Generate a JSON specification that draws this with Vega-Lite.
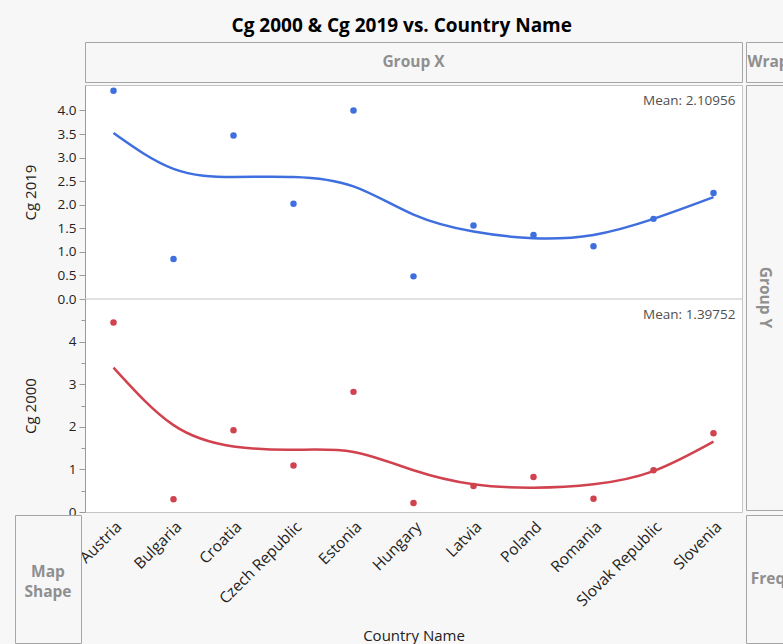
{
  "$schema": "https://vega.github.io/schema/vega-lite/v6.json",
  "background": "#f7f7f7",
  "padding": {"left": 14, "top": 16, "right": 0, "bottom": 0},
  "title": {"text": "Cg 2000 & Cg 2019 vs. Country Name", "fontSize": 19, "fontWeight": "bold", "font": "Open Sans", "color": "#000000", "anchor": "middle", "offset": 6},
  "datasets": {
    "cg": [
      {"country": "Austria", "cg2019": 4.42, "fit2019": 3.52, "cg2000": 4.45, "fit2000": 3.39},
      {"country": "Bulgaria", "cg2019": 0.85, "fit2019": 2.76, "cg2000": 0.30, "fit2000": 2.04},
      {"country": "Croatia", "cg2019": 3.47, "fit2019": 2.59, "cg2000": 1.92, "fit2000": 1.54},
      {"country": "Czech Republic", "cg2019": 2.02, "fit2019": 2.59, "cg2000": 1.09, "fit2000": 1.46},
      {"country": "Estonia", "cg2019": 4.00, "fit2019": 2.39, "cg2000": 2.82, "fit2000": 1.41},
      {"country": "Hungary", "cg2019": 0.48, "fit2019": 1.79, "cg2000": 0.21, "fit2000": 0.98},
      {"country": "Latvia", "cg2019": 1.56, "fit2019": 1.43, "cg2000": 0.61, "fit2000": 0.65},
      {"country": "Poland", "cg2019": 1.36, "fit2019": 1.29, "cg2000": 0.82, "fit2000": 0.57},
      {"country": "Romania", "cg2019": 1.12, "fit2019": 1.36, "cg2000": 0.31, "fit2000": 0.65},
      {"country": "Slovak Republic", "cg2019": 1.70, "fit2019": 1.70, "cg2000": 0.98, "fit2000": 0.96},
      {"country": "Slovenia", "cg2019": 2.25, "fit2019": 2.16, "cg2000": 1.85, "fit2000": 1.65}
    ]
  },
  "bounds": "flush",
  "columns": 3,
  "spacing": {"row": 3, "column": 4},
  "concat": [
    {"width": 66, "height": 40, "data": {"values": [{"label": ""}]}, "mark": {"type": "text"}, "encoding": {"text": {"field": "label"}}},
    {"width": 657, "height": 40, "view": {"stroke": "#a6a6a6", "fill": "#f7f7f7"}, "data": {"values": [{"label": "Group X"}]}, "mark": {"type": "text", "fontWeight": "bold", "fontSize": 15.5, "color": "#8f8f8f", "baseline": "middle"}, "encoding": {"text": {"field": "label"}}},
    {"width": 38, "height": 40, "view": {"stroke": "#a6a6a6", "fill": "#f7f7f7"}, "data": {"values": [{"label": "Wrap"}]}, "mark": {"type": "text", "fontWeight": "bold", "fontSize": 15.5, "color": "#8f8f8f", "baseline": "middle", "dx": 3}, "encoding": {"text": {"field": "label"}}},

    {"width": 66, "height": 427, "data": {"values": [{"label": ""}]}, "mark": {"type": "text"}, "encoding": {"text": {"field": "label"}}},
    {
      "width": 657, "height": 427,
      "view": {"stroke": "#c4c4c4", "fill": "#ffffff"},
      "data": {"name": "cg"},
      "resolve": {"scale": {"y": "independent"}, "axis": {"y": "independent"}},
      "layer": [
        {
          "layer": [
            {"mark": {"type": "line", "interpolate": "natural", "color": "#3f6fde", "strokeWidth": 2.5},
             "encoding": {
               "x": {"field": "country", "type": "nominal", "sort": null, "scale": {"type": "point", "padding": 0.475},
                     "axis": {"title": "Country Name", "labelAngle": -45, "labelFontSize": 15.5, "titleFontSize": 15, "minExtent": 100, "maxExtent": 100, "titlePadding": 16, "ticks": false, "tickSize": 0, "labelPadding": 7, "domain": false}},
               "y": {"field": "fit2019", "type": "quantitative", "scale": {"domain": [0, 4.54], "range": [214, 0], "nice": false, "zero": false},
               "axis": {"orient": "left", "title": "Cg 2019", "values": [0, 0.5, 1, 1.5, 2, 2.5, 3, 3.5, 4], "format": ".1f", "minExtent": 40, "maxExtent": 40, "titlePadding": 7, "labelPadding": 3}}}},
            {"mark": {"type": "circle", "size": 42, "opacity": 1, "color": "#3f6fde"},
             "encoding": {
               "x": {"field": "country", "type": "nominal", "sort": null, "title": "Country Name"},
               "y": {"field": "cg2019", "type": "quantitative"}}},
            {"data": {"values": [{"label": "Mean: 2.10956"}]},
             "mark": {"type": "text", "align": "right", "baseline": "top", "fontSize": 13.5, "color": "#505050", "dx": 22, "dy": 9},
             "encoding": {"x": {"datum": "Slovenia"}, "y": {"datum": 4.54, "type": "quantitative"}, "text": {"field": "label"}}}
          ]
        },
        {
          "resolve": {"axis": {"y": "independent"}},
          "layer": [
            {"mark": {"type": "line", "interpolate": "natural", "color": "#d1424f", "strokeWidth": 2.5},
             "encoding": {
               "x": {"field": "country", "type": "nominal", "sort": null, "title": "Country Name"},
               "y": {"field": "fit2000", "type": "quantitative", "scale": {"domain": [0, 5.0], "range": [427, 214], "nice": false, "zero": false},
               "axis": {"orient": "left", "title": "Cg 2000", "values": [0, 1, 2, 3, 4], "format": "d", "minExtent": 40, "maxExtent": 40, "titlePadding": 7, "labelPadding": 3}}}},
            {"mark": {"type": "circle", "size": 42, "opacity": 1, "color": "#d1424f"},
             "encoding": {
               "x": {"field": "country", "type": "nominal", "sort": null, "title": "Country Name"},
               "y": {"field": "cg2000", "type": "quantitative", "axis": {"orient": "left", "values": [0.5, 1.5, 2.5, 3.5, 4.5], "labels": false, "tickSize": 4, "domain": false, "title": null}}}},
            {"data": {"values": [{"label": "Mean: 1.39752"}]},
             "mark": {"type": "text", "align": "right", "baseline": "top", "fontSize": 13.5, "color": "#505050", "dx": 22, "dy": 9},
             "encoding": {"x": {"datum": "Slovenia"}, "y": {"datum": 5.0, "type": "quantitative", "axis": null}, "text": {"field": "label"}}},
            {"data": {"values": [{"label": "separator"}]},
             "mark": {"type": "rule", "color": "#c4c4c4", "strokeWidth": 1},
             "encoding": {"y": {"datum": 5.0, "type": "quantitative", "axis": null}}}
          ]
        }
      ]
    },
    {"width": 38, "height": 425, "view": {"stroke": "#a6a6a6", "fill": "#f7f7f7"}, "data": {"values": [{"label": "Group Y"}]}, "mark": {"type": "text", "fontWeight": "bold", "fontSize": 15.5, "color": "#8f8f8f", "baseline": "middle", "angle": 90}, "encoding": {"text": {"field": "label"}}},

    {"width": 66, "height": 128, "view": {"stroke": "#a6a6a6", "fill": "#f7f7f7"}, "data": {"values": [{"label": ["Map", "Shape"]}]}, "mark": {"type": "text", "fontWeight": "bold", "fontSize": 15.5, "color": "#8f8f8f", "lineHeight": 20, "baseline": "middle", "dy": -7}, "encoding": {"text": {"field": "label"}}},
    {"width": 657, "height": 128, "data": {"values": [{"label": ""}]}, "mark": {"type": "text"}, "encoding": {"text": {"field": "label"}}},
    {"width": 38, "height": 128, "view": {"stroke": "#a6a6a6", "fill": "#f7f7f7"}, "data": {"values": [{"label": "Freq"}]}, "mark": {"type": "text", "fontWeight": "bold", "fontSize": 15.5, "color": "#8f8f8f", "baseline": "middle", "dx": 3}, "encoding": {"text": {"field": "label"}}}
  ],
  "config": {
    "font": "Open Sans",
    "view": {"stroke": null},
    "axis": {"labelFont": "Open Sans", "titleFont": "Open Sans", "labelFontSize": 13.5, "titleFontSize": 15, "titleFontWeight": "normal", "labelColor": "#222222", "titleColor": "#222222", "tickColor": "#9a9a9a", "domainColor": "#9a9a9a", "grid": false, "tickSize": 6}
  }
}
